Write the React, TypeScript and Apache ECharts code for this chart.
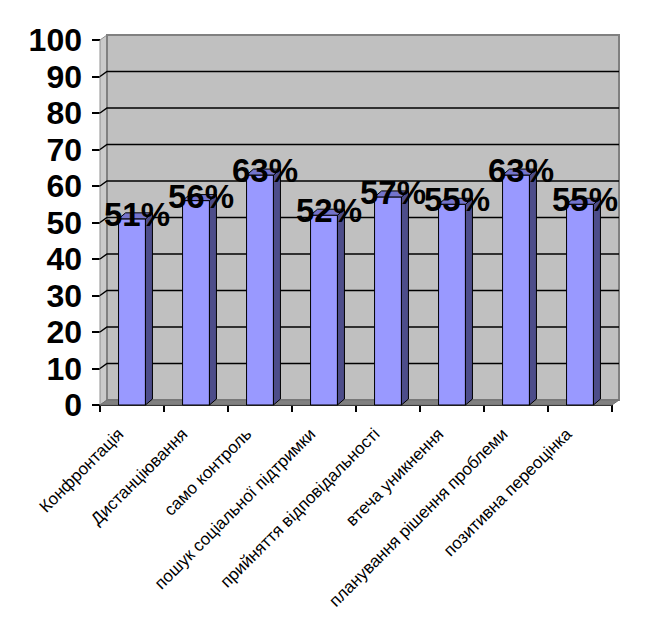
import React, { useEffect, useRef } from "react";
import * as echarts from "echarts";

const categories = [
  "Конфронтація",
  "Дистанціювання",
  "само контроль",
  "пошук соціальної підтримки",
  "прийняття відповідальності",
  "втеча уникнення",
  "планування рішення проблеми",
  "позитивна переоцінка",
];
const values = [51, 56, 63, 52, 57, 55, 63, 55];
const valueLabels = ["51%", "56%", "63%", "52%", "57%", "55%", "63%", "55%"];
const yTicks = [0, 10, 20, 30, 40, 50, 60, 70, 80, 90, 100];

const FONT = "'Liberation Sans', Arial, sans-serif";
const WALL_DX = 7;
const WALL_DY = -5;
const BAR_DX = 7;
const BAR_DY = -6;

export default function App() {
  const ref = useRef<HTMLDivElement>(null);
  useEffect(() => {
    if (!ref.current) return;
    const chart = echarts.init(ref.current, null, { renderer: "svg" });
    const option: any = {
      animation: false,
      backgroundColor: "#ffffff",
      grid: { left: 100, top: 40, width: 512, height: 365, containLabel: false },
      xAxis: {
        type: "category",
        data: categories,
        boundaryGap: true,
        axisLine: { show: true, lineStyle: { color: "#000", width: 2 } },
        axisTick: { show: true, interval: 0, length: 7, lineStyle: { color: "#000", width: 2 } },
        axisLabel: {
          interval: 0,
          rotate: 45,
          fontSize: 17,
          color: "#000",
          fontFamily: FONT,
          margin: 15,
          padding: [0, 16, 0, 0],
        },
        splitLine: { show: false },
      },
      yAxis: {
        type: "value",
        min: 0,
        max: 100,
        interval: 10,
        axisLine: { show: true, lineStyle: { color: "#808080", width: 1 } },
        axisTick: { show: true, length: 8, lineStyle: { color: "#000", width: 2 } },
        axisLabel: {
          fontSize: 32,
          fontWeight: "bold",
          color: "#000",
          fontFamily: FONT,
          margin: 18,
        },
        splitLine: { show: false },
      },
      series: [
        {
          type: "custom",
          z: 1,
          silent: true,
          clip: false,
          data: [[0, 0]],
          encode: { x: 0, y: 1 },
          renderItem: (params: any, api: any) => {
            const cs = params.coordSys;
            const x0 = cs.x;
            const x1 = cs.x + cs.width;
            const yt = cs.y;
            const yb = cs.y + cs.height;
            const children: any[] = [];
            children.push({
              type: "polygon",
              shape: {
                points: [
                  [x0, yb],
                  [x0, yt],
                  [x0 + WALL_DX, yt + WALL_DY],
                  [x0 + WALL_DX, yb + WALL_DY],
                ],
              },
              style: { fill: "#cacaca", stroke: "#909090", lineWidth: 1 },
            });
            children.push({
              type: "rect",
              shape: { x: x0 + WALL_DX, y: yt + WALL_DY, width: cs.width, height: cs.height },
              style: { fill: "#c0c0c0", stroke: "#808080", lineWidth: 2 },
            });
            children.push({
              type: "polygon",
              shape: {
                points: [
                  [x0, yb],
                  [x0 + WALL_DX, yb + WALL_DY],
                  [x1 + WALL_DX, yb + WALL_DY],
                  [x1, yb],
                ],
              },
              style: { fill: "#808080", stroke: "#707070", lineWidth: 1 },
            });
            yTicks.forEach((v) => {
              if (v <= 0 || v >= 100) return;
              const y = api.coord([0, v])[1];
              children.push({
                type: "polyline",
                shape: {
                  points: [
                    [x0, y],
                    [x0 + WALL_DX, y + WALL_DY],
                    [x1 + WALL_DX, y + WALL_DY],
                  ],
                },
                style: { fill: "none", stroke: "#000", lineWidth: 1.5 },
              });
            });
            return { type: "group", children };
          },
        },
        {
          type: "custom",
          z: 2,
          clip: false,
          data: values.map((v, i) => [i, v]),
          encode: { x: 0, y: 1 },
          renderItem: (params: any, api: any) => {
            const i = api.value(0);
            const v = api.value(1);
            const top = api.coord([i, v]);
            const base = api.coord([i, 0]);
            const w = api.size([1, 0])[0] * 0.42;
            const x = top[0] - w / 2;
            const yt = top[1];
            const yb = base[1];
            const stroke = { stroke: "#000", lineWidth: 1 };
            return {
              type: "group",
              children: [
                {
                  type: "polygon",
                  shape: { points: [[x, yt], [x + w, yt], [x + w, yb], [x, yb]] },
                  style: { fill: "#9999ff", ...stroke },
                },
                {
                  type: "polygon",
                  shape: {
                    points: [
                      [x + w, yt],
                      [x + w + BAR_DX, yt + BAR_DY],
                      [x + w + BAR_DX, yb + BAR_DY],
                      [x + w, yb],
                    ],
                  },
                  style: { fill: "#4d4d8a", ...stroke },
                },
                {
                  type: "polygon",
                  shape: {
                    points: [
                      [x, yt],
                      [x + BAR_DX, yt + BAR_DY],
                      [x + w + BAR_DX, yt + BAR_DY],
                      [x + w, yt],
                    ],
                  },
                  style: { fill: "#7474cc", ...stroke },
                },
                {
                  type: "text",
                  z2: 100,
                  style: {
                    text: valueLabels[params.dataIndex],
                    x: top[0] + 5,
                    y: yt + 12,
                    align: "center",
                    verticalAlign: "bottom",
                    fontSize: 33,
                    fontWeight: "bold",
                    fontFamily: FONT,
                    fill: "#000",
                  },
                },
              ],
            };
          },
        },
      ],
    };
    chart.setOption(option);
    return () => chart.dispose();
  }, []);
  return (
    <div
      ref={ref}
      style={{ position: "fixed", left: 0, top: 0, width: 648, height: 631 }}
    />
  );
}
